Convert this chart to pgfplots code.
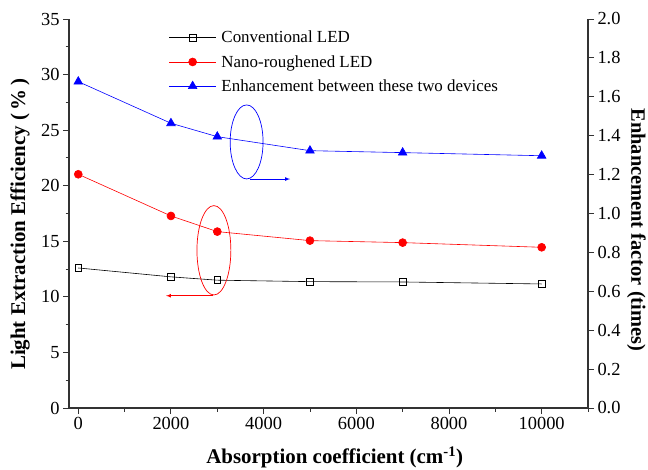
\documentclass[border=0pt]{standalone}
\usepackage{fontspec}
\setmainfont{Liberation Serif}
\usepackage{pgfplots}
\pgfplotsset{compat=1.18}
\begin{document}
\begin{tikzpicture}
\useasboundingbox (-69bp,-62bp) rectangle (579bp,408bp);
\pgfplotsset{
  common/.style={
    scale only axis, width=519bp, height=389bp,
    at={(0,0)}, anchor=south west,
    xmin=-200, xmax=11000,
    axis line style={line width=1.1pt, black!80},
    tick style={line width=0.9pt, black!80},
    tick align=outside,
    major tick length=6bp, minor tick length=3.5bp,
    /pgf/number format/assume math mode=true,
    tick label style={font=\fontsize{18.5}{21}\selectfont},
  }
}
\begin{axis}[common,
  axis x line*=bottom, axis y line*=left,
  ymin=0, ymax=35,
  ytick={0,5,...,35}, minor ytick={2.5,7.5,...,32.5},
  xtick={0,2000,...,10000}, minor xtick={1000,3000,...,11000},
  scaled x ticks=false,
  xticklabel style={/pgf/number format/1000 sep={}},
  xlabel={Absorption coefficient (cm\textsuperscript{-1})},
  ylabel={Light Extraction Efficiency (\,\%\,)},
  every axis x label/.style={at={(axis description cs:0.512,0)}, anchor=center, yshift=-49.5bp, font=\fontsize{21}{24}\selectfont\bfseries},
  every axis y label/.style={at={(axis description cs:0,0.472)}, anchor=center, xshift=-49bp, rotate=90, font=\fontsize{21}{24}\selectfont\bfseries},
]
\addplot[black, line width=0.6pt, mark=square, mark size=3.3pt, mark options={solid, fill=white, line width=0.8pt}]
  coordinates {(0,12.6) (2000,11.8) (3000,11.5) (5000,11.37) (7000,11.34) (10000,11.16)};
\addplot[red, line width=0.6pt, mark=*, mark size=4pt, mark options={solid, fill=red}]
  coordinates {(0,21.03) (2000,17.28) (3000,15.87) (5000,15.06) (7000,14.88) (10000,14.46)};
% annotations
\draw[red, line width=0.7pt] (axis cs:2927,14.19) ellipse [x radius=366, y radius=4.02];
\draw[red, line width=0.7pt, -latex] (axis cs:2916,10.1) -- (axis cs:1894,10.1);
\draw[blue, line width=0.7pt] (axis cs:3633,23.94) ellipse [x radius=355, y radius=3.33];
\draw[blue, line width=0.7pt, -latex] (axis cs:3709,20.6) -- (axis cs:4570,20.6);
\end{axis}
\begin{axis}[common,
  axis x line=none, axis y line*=right,
  ymin=0, ymax=2,
  ytick={0,0.2,...,2.0},
  yticklabel style={/pgf/number format/.cd, fixed, fixed zerofill, precision=1},
  ylabel={Enhancement factor (times)},
  every axis y label/.style={at={(axis description cs:1,0.458)}, anchor=center, xshift=48.5bp, rotate=-90, font=\fontsize{20.5}{23}\selectfont\bfseries},
  legend style={draw=none, fill=none, at={(0.19,0.977)}, anchor=north west,
    font=\fontsize{17}{20}\selectfont, row sep=7pt, column sep=3bp, inner sep=1pt},
  legend cell align=left,
  legend image code/.code={\draw[mark repeat=2, mark phase=2, #1] plot coordinates {(0cm,0cm) (0.83cm,0cm) (1.66cm,0cm)};},
]
\addlegendimage{black, line width=0.6pt, mark=square, mark size=3.3pt, mark options={solid, fill=white, line width=0.8pt}}
\addlegendentry{Conventional LED}
\addlegendimage{red, line width=0.6pt, mark=*, mark size=4pt, mark options={solid, fill=red}}
\addlegendentry{Nano-roughened LED}
\addplot[blue, line width=0.6pt, mark=triangle*, mark size=5pt, mark options={solid, fill=blue}]
  coordinates {(0,1.678) (2000,1.464) (3000,1.395) (5000,1.323) (7000,1.313) (10000,1.297)};
\addlegendentry{Enhancement between these two devices}
\end{axis}
\end{tikzpicture}
\end{document}
